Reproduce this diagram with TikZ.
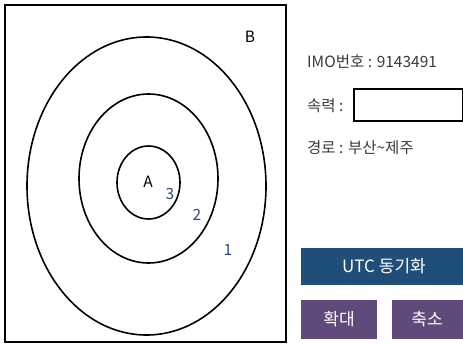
\documentclass[tikz,border=0pt]{standalone}
\usepackage{fontspec}
\setmainfont{Noto Sans CJK KR}
\newfontfamily\kr{Noto Sans CJK KR}
\definecolor{btnblue}{HTML}{1F4E79}
\definecolor{btnpurple}{HTML}{604A7B}
\definecolor{numblue}{HTML}{2E4A7D}
\definecolor{txtgray}{HTML}{3A3A3A}
\begin{document}
\begin{tikzpicture}[x=1pt,y=-1pt,
  ring/.style={draw=black,line width=1.6pt},
  lbl/.style={font=\kr\fontsize{15.5}{16}\selectfont,inner sep=0pt},
  numlbl/.style={lbl,text=numblue},
  info/.style={font=\kr\fontsize{15.5}{17}\selectfont,text=txtgray,inner sep=0pt,anchor=west},
  btn/.style={draw=none,text=white,font=\kr\fontsize{17}{18}\selectfont,inner sep=0pt}]
\useasboundingbox (0,0) rectangle (463,345);
\fill[white] (0,0) rectangle (463,345);
% frame
\draw[line width=1.6pt] (5,5) rectangle (286,342);
% ellipses
\draw[ring] (146.5,186) ellipse [x radius=119.5, y radius=149];
\draw[ring] (148.5,178.5) ellipse [x radius=69.5, y radius=84.5];
\draw[ring] (148.5,182.5) ellipse [x radius=31.5, y radius=36.5];
% labels
\node[lbl] (A) at (148,182) {A};
\node[lbl] (B) at (250,37) {B};
\node[numlbl] (n3) at (170,194) {3};
\node[numlbl] (n2) at (197,215) {2};
\node[numlbl] (n1) at (228,250) {1};
% info panel
\node[info] (imo) at (307,62) {IMO번호 : 9143491};
\node[info] (spd) at (307,106) {속력 :};
\draw[line width=1.3pt] (354,89) rectangle (462.5,121);
\node[info] (route) at (307,148) {경로 : 부산\textasciitilde 제주};
% buttons
\fill[btnblue] (301,248) rectangle (463,285);
\node[btn] (utc) at (384,266.5) {UTC 동기화};
\fill[btnpurple] (301,300) rectangle (377,339);
\node[btn] (zin) at (339,319.5) {확대};
\fill[btnpurple] (392,300) rectangle (463,339);
\node[btn] (zout) at (427,319.5) {축소};
\end{tikzpicture}
\end{document}
